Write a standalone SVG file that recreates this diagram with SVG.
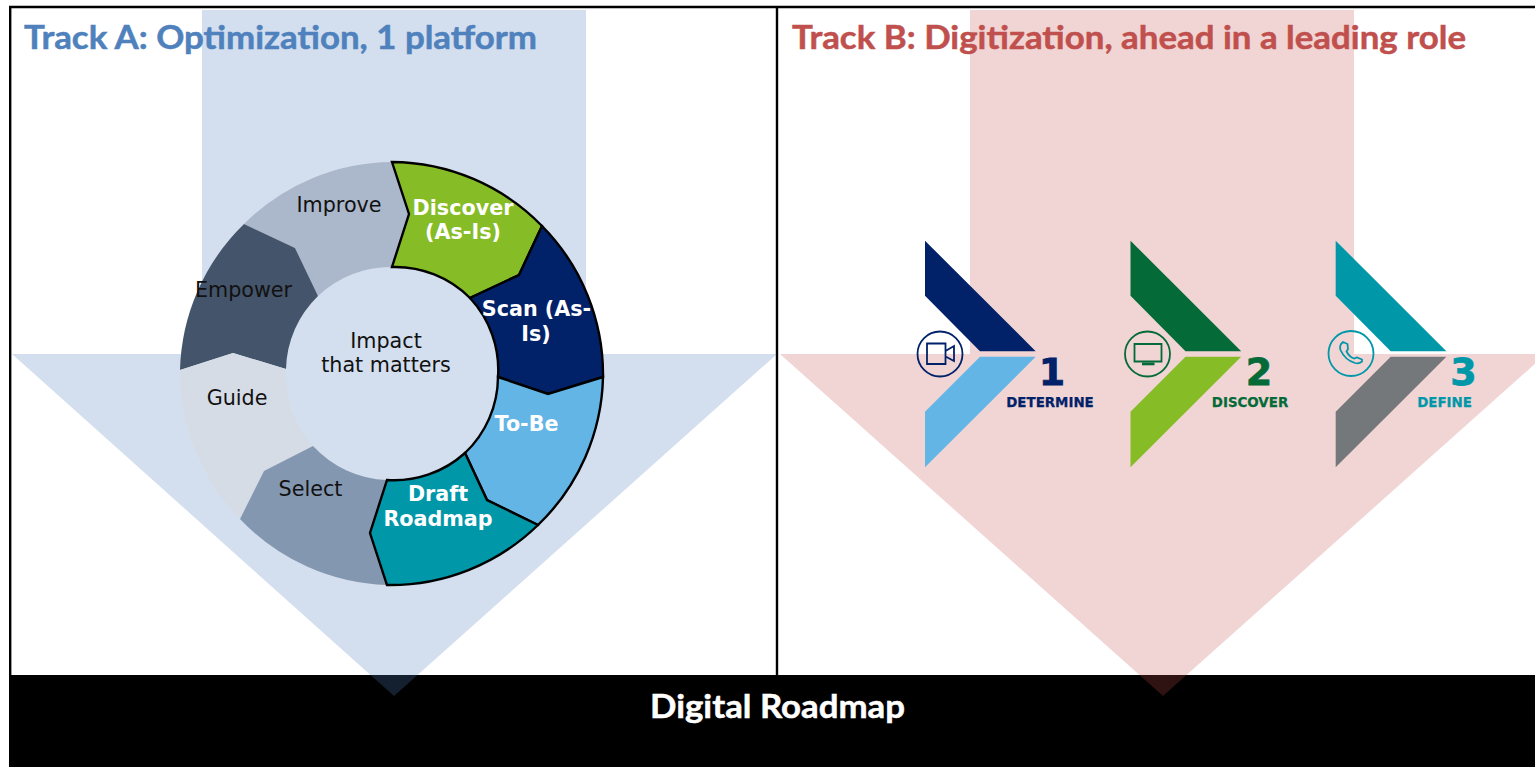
<svg xmlns="http://www.w3.org/2000/svg" width="1535" height="767" viewBox="0 0 1535 767">
<style>
.ln{stroke:#000;stroke-width:2.4;fill:none}
.title{font-family:Lato,"Open Sans",sans-serif;font-weight:700;font-size:33px;stroke-width:.5}
.seg{stroke:none}
.out{stroke:#000;stroke-width:2.4;stroke-linejoin:miter}
.rt{font-family:"DejaVu Sans",Verdana,sans-serif;font-size:20.7px;text-anchor:middle;fill:#111}
.rb{font-family:"DejaVu Sans",Verdana,sans-serif;font-size:20.7px;font-weight:700;text-anchor:middle;fill:#fff}
.num{font-family:"DejaVu Sans",Verdana,sans-serif;font-size:38px;font-weight:700;text-anchor:middle;stroke-width:.8}
.lab{font-family:"DejaVu Sans",Verdana,sans-serif;font-size:13.4px;font-weight:700;text-anchor:middle;stroke-width:.25}
.ic{fill:none;stroke-width:1.8}
</style>
<defs>
<polygon id="chevTop" points="0,0 110.7,110.6 55,110.6 0,55"/>
<polygon id="chevBot" points="0,226.6 110.7,116 55,116 0,171"/>
</defs>
<rect width="1535" height="767" fill="#fff"/>
<g id="frame">
<path class="ln" d="M10.2 675V7H1535M777 7V675"/>
<rect x="9" y="675" width="1526" height="92" fill="#000"/>
</g>
<g id="track-a-arrow"><polygon points="202,10 586,10 586,354 777,354 394,696 12,354 202,354" fill="#4F81BD" fill-opacity=".25"/></g>
<g id="track-b-arrow"><polygon points="970,10 1354,10 1354,354 1546,354 1163,696 780,354 970,354" fill="#C0504D" fill-opacity=".24"/></g>
<g id="title-a"><text class="title" x="24" y="49" fill="#4F81BD" stroke="#4F81BD" textLength="513" lengthAdjust="spacingAndGlyphs">Track A: Optimization, 1 platform</text></g>
<g id="title-b"><text class="title" x="792" y="49" fill="#C0504D" stroke="#C0504D" textLength="674" lengthAdjust="spacingAndGlyphs">Track B: Digitization, ahead in a leading role</text></g>
<g id="roadmap"><text class="title" x="650" y="718" fill="#fff" stroke="#fff" textLength="255" lengthAdjust="spacingAndGlyphs">Digital Roadmap</text></g>

<g id="seg-improve"><path class="seg" fill="#ABB7CA" d="M244 224A211.5 211.5 0 0 1 392 162L409 214L392 267A105.5 105.5 0 0 0 318 296L295 248Z"/><text class="rt" x="339" y="212">Improve</text></g>
<g id="seg-empower"><path class="seg" fill="#44546A" d="M180 370A211.5 211.5 0 0 1 244 224L295 248L318 296A105.5 105.5 0 0 0 286 369L233 353Z"/><text class="rt" x="243.5" y="297">Empower</text></g>
<g id="seg-guide"><path class="seg" fill="#D6DCE5" d="M240 519A211.5 211.5 0 0 1 180 370L233 353L286 369A105.5 105.5 0 0 0 313 446L264 471Z"/><text class="rt" x="237" y="405">Guide</text></g>
<g id="seg-select"><path class="seg" fill="#8497B0" d="M387 585A211.5 211.5 0 0 1 240 519L264 471L313 446A105.5 105.5 0 0 0 387 480L370 533Z"/><text class="rt" x="310.5" y="496">Select</text></g>
<g id="seg-discover"><path class="out" fill="#86BC25" d="M392 162A211.5 211.5 0 0 1 542 226L519 275L470 298A105.5 105.5 0 0 0 392 267L409 214Z"/><text class="rb" x="463" y="215">Discover</text><text class="rb" x="463" y="239">(As-Is)</text></g>
<g id="seg-scan"><path class="out" fill="#012169" d="M542 226A211.5 211.5 0 0 1 603 377L548 394L498 377A105.5 105.5 0 0 0 470 298L519 275Z"/><text class="rb" x="536.5" y="316">Scan (As-</text><text class="rb" x="536" y="341">Is)</text></g>
<g id="seg-tobe"><path class="out" fill="#62B5E5" d="M603 377A211.5 211.5 0 0 1 538 525L487 500L465 453A105.5 105.5 0 0 0 498 377L548 394Z"/><text class="rb" x="526.5" y="431">To-Be</text></g>
<g id="seg-draft"><path class="out" fill="#0097A9" d="M538 525A211.5 211.5 0 0 1 387 585L370 533L387 480A105.5 105.5 0 0 0 465 453L487 500Z"/><text class="rb" x="438" y="501">Draft</text><text class="rb" x="438" y="526">Roadmap</text></g>
<g id="center"><text class="rt" x="386" y="348">Impact</text><text class="rt" x="386" y="372">that matters</text></g>

<g id="step-1">
<use href="#chevTop" x="925" y="240.7" fill="#012169"/><use href="#chevBot" x="925" y="240.7" fill="#62B5E5"/>
<g class="ic" stroke="#012169"><circle cx="940" cy="354" r="22.5"/><path d="M927 343.5H945.5V364H927ZM945.5 351L954 346V361L945.5 356.5"/></g>
<text class="num" x="1052" y="385" fill="#012169" stroke="#012169">1</text><text class="lab" x="1050" y="406.5" fill="#012169" stroke="#012169">DETERMINE</text>
</g>
<g id="step-2">
<use href="#chevTop" x="1130.5" y="240.7" fill="#046A38"/><use href="#chevBot" x="1130.5" y="240.7" fill="#86BC25"/>
<g class="ic" stroke="#046A38"><circle cx="1147.5" cy="354" r="22.5"/><path d="M1134.5 344H1161.5V361.5H1134.5Z"/></g>
<rect x="1142" y="362.5" width="12.5" height="2.8" fill="#046A38"/>
<text class="num" x="1259" y="385" fill="#046A38" stroke="#046A38">2</text><text class="lab" x="1250" y="406.5" fill="#046A38" stroke="#046A38">DISCOVER</text>
</g>
<g id="step-3">
<use href="#chevTop" x="1335.7" y="240.7" fill="#0097A9"/><use href="#chevBot" x="1335.7" y="240.7" fill="#75787B"/>
<g class="ic" stroke="#0097A9"><circle cx="1351" cy="353.5" r="22.5"/><path d="M1343 342L1347.5 344L1348 349L1346.5 351.5Q1349.5 357 1354 358.5L1357 357.5L1362 359.5L1362 361.5Q1359 364 1355 363Q1345 360 1340.5 350Q1339 345 1343 342Z"/></g>
<text class="num" x="1463.5" y="385" fill="#0097A9" stroke="#0097A9">3</text><text class="lab" x="1444.5" y="406.5" fill="#0097A9" stroke="#0097A9">DEFINE</text>
</g>
</svg>
